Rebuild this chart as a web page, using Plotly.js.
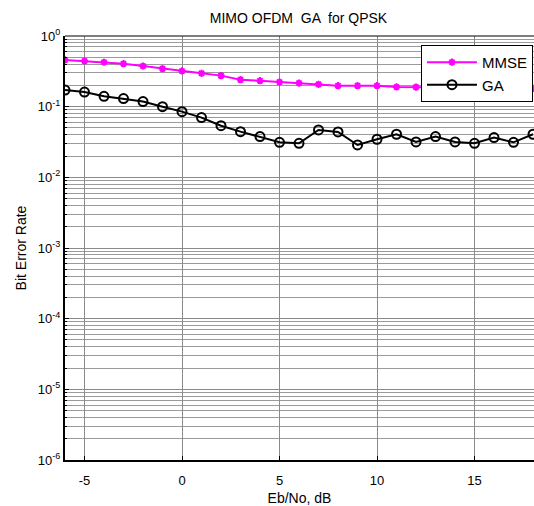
<!DOCTYPE html>
<html>
<head>
<meta charset="utf-8">
<script src="https://cdn.plot.ly/plotly-3.0.1.min.js"></script>
<style>html,body{margin:0;padding:0;background:#fff;overflow:hidden;}</style>
</head>
<body>
<div id="chart" style="width:534px;height:506px;"></div>
<script>
const ebno = [-6,-5,-4,-3,-2,-1,0,1,2,3,4,5,6,7,8,9,10,11,12,13,14,15,16,17,18];
const mmse = [0.458,0.443,0.425,0.406,0.376,0.345,0.320,0.296,0.275,0.241,0.233,0.223,0.216,0.207,0.198,0.198,0.198,0.190,0.189,0.187,0.186,0.185,0.184,0.183,0.182];
const ga   = [0.172,0.161,0.140,0.130,0.118,0.100,0.085,0.070,0.0538,0.0443,0.0377,0.0313,0.0303,0.0468,0.0439,0.0287,0.0346,0.0407,0.0317,0.0377,0.0317,0.0303,0.0365,0.0313,0.0407];
const xTicks = [-5,0,5,10,15];
const xTickText = ['-5','0','5','10','15'];
const yTickVals = [1e-6,1e-5,1e-4,1e-3,1e-2,1e-1,1];
const yTickText = ['10<sup>-6</sup>','10<sup>-5</sup>','10<sup>-4</sup>','10<sup>-3</sup>','10<sup>-2</sup>','10<sup>-1</sup>','10<sup>0</sup>'];

const font = 'Liberation Sans, Arial, sans-serif';
const traces = [
  {x: ebno, y: mmse, name: 'MMSE', type: 'scatter', mode: 'lines+markers',
   line: {color: '#ff00ff', width: 2},
   marker: {symbol: 'asterisk-open', size: 6, color: '#ff00ff', line: {color: '#ff00ff', width: 2}}},
  {x: ebno, y: ga, name: 'GA', type: 'scatter', mode: 'lines+markers',
   line: {color: '#000000', width: 2},
   marker: {symbol: 'circle-open', size: 9, color: '#000000', line: {color: '#000000', width: 2}}}
];
const layout = {
  width: 534, height: 506,
  margin: {l: 65, r: 0, t: 36, b: 46, pad: 0},
  paper_bgcolor: '#fff', plot_bgcolor: '#fff',
  font: {family: font, size: 12, color: '#000'},
  showlegend: true,
  title: {text: 'MIMO OFDM  GA  for QPSK', font: {family: font, size: 14, color: '#000'},
          x: 0.559, xanchor: 'center', y: 0.964, yanchor: 'middle'},
  xaxis: {
    range: [-6, 18.05], tickvals: xTicks, ticktext: xTickText, ticks: 'inside', ticklen: 4, tickcolor: '#000',
    ticklabelstandoff: 7,
    showline: true, linecolor: '#000', linewidth: 2, mirror: false,
    showgrid: true, gridcolor: '#8a8a8a', gridwidth: 1, zeroline: false,
    tickfont: {family: font, size: 13},
    title: {text: 'Eb/No, dB', font: {family: font, size: 14}, standoff: 8}
  },
  yaxis: {
    type: 'log', range: [-6, 0], tickvals: yTickVals, ticktext: yTickText,
    ticks: 'inside', ticklen: 4, tickcolor: '#000',
    showline: true, linecolor: '#000', linewidth: 2, mirror: false,
    showgrid: true, gridcolor: '#8a8a8a', gridwidth: 1, zeroline: false,
    minor: {dtick: 'D1', showgrid: true, gridcolor: '#9a9a9a', gridwidth: 1, ticks: 'inside', ticklen: 2, tickcolor: '#000'},
    tickfont: {family: font, size: 13},
    title: {text: 'Bit Error Rate', font: {family: font, size: 14}, standoff: 8}
  },
  legend: {x: 0.759, y: 0.979, xanchor: 'left', yanchor: 'top',
           bgcolor: '#fff', bordercolor: '#000', borderwidth: 1,
           font: {family: font, size: 15}, itemwidth: 50, tracegroupgap: 0,
           entrywidth: 50, indentation: 0},
  shapes: [
    {type: 'line', xref: 'paper', yref: 'paper', x0: 0, x1: 1, y0: 1, y1: 1, line: {color: '#000', width: 1}}
  ]
};
Plotly.newPlot('chart', traces, layout, {displayModeBar: false, staticPlot: true});
</script>
</body>
</html>
